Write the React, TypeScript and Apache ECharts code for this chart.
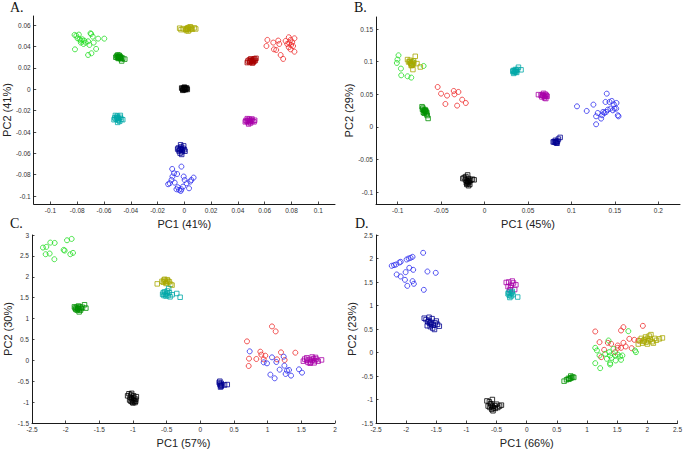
import React, { useEffect, useRef } from "react";
import * as echarts from "echarts";

type P = [number, number][];

// ---------- Panel A ----------
const aGreenCircles: P = [[-0.082,0.0509],[-0.0807,0.0502],[-0.0788,0.0512],[-0.0798,0.0477],[-0.0783,0.0468],[-0.0773,0.0456],[-0.0763,0.0468],[-0.0748,0.0456],[-0.0738,0.0437],[-0.0719,0.0449],[-0.0701,0.0524],[-0.0696,0.0518],[-0.0677,0.0437],[-0.0684,0.0493],[-0.0644,0.0474],[-0.0598,0.0474],[-0.0817,0.0374],[-0.0719,0.0321],[-0.0694,0.0337],[-0.0659,0.0378],[-0.0753,0.0424],[-0.0709,0.0415],[-0.0773,0.0437]];
const aDarkGreenSquares: P = [[-0.0495,0.0305],[-0.0488,0.0298],[-0.0478,0.0302],[-0.05,0.0295],[-0.0482,0.031],[-0.047,0.0296],[-0.0492,0.0288],[-0.0505,0.0312],[-0.0475,0.0285],[-0.046,0.029],[-0.0445,0.0282],[-0.0512,0.03],[-0.0487,0.0318],[-0.0468,0.0265],[-0.0497,0.0322],[-0.0483,0.0292],[-0.049,0.0302]];
const aOliveSquares: P = [[0.002,0.0565],[0.003,0.057],[0.001,0.056],[0.004,0.0558],[0.0025,0.0575],[-0.001,0.0568],[0.005,0.0572],[0.006,0.0562],[-0.0025,0.0558],[0.0015,0.055],[0.0035,0.058],[0.0075,0.0575],[0.0085,0.0565],[-0.0035,0.0572],[0.0028,0.0545],[0.0045,0.0585],[0.002,0.0562]];
const aBlackSquares: P = [[0,0.0006],[0.0005,0.0002],[-0.0006,0.001],[0.001,0.0008],[-0.001,0],[0.0003,0.0015],[-0.0003,-0.0005],[0.0015,0.0004],[-0.0015,0.0006],[0.0008,-0.0003],[-0.002,0.0012],[0.0018,0.0012],[0,0.002],[0.0022,-0.0002],[-0.0012,-0.001]];
const aDarkRedSquares: P = [[0.05,0.0268],[0.051,0.0272],[0.0492,0.0263],[0.0518,0.028],[0.0505,0.0258],[0.0485,0.0275],[0.0525,0.0285],[0.053,0.027],[0.0475,0.0265],[0.0496,0.0285],[0.0515,0.0255],[0.047,0.025],[0.0535,0.029],[0.0508,0.0245],[0.0488,0.0252],[0.052,0.0262]];
const aRedCircles: P = [[0.062,0.0462],[0.0613,0.0405],[0.0664,0.0437],[0.0701,0.0456],[0.0709,0.0424],[0.0669,0.0374],[0.0686,0.0368],[0.0719,0.0321],[0.0738,0.0284],[0.0756,0.0452],[0.078,0.0487],[0.0793,0.0462],[0.0822,0.0477],[0.0783,0.0431],[0.0798,0.0415],[0.0812,0.0405],[0.078,0.0393],[0.0793,0.0374],[0.0822,0.0352],[0.0768,0.0424],[0.0805,0.044]];
const aCyanSquares: P = [[-0.0496,-0.0268],[-0.0505,-0.026],[-0.0488,-0.0275],[-0.051,-0.028],[-0.048,-0.0262],[-0.05,-0.025],[-0.0492,-0.029],[-0.052,-0.0268],[-0.047,-0.028],[-0.0515,-0.0245],[-0.0483,-0.03],[-0.046,-0.0285],[-0.0498,-0.031],[-0.0525,-0.0285],[-0.0478,-0.0245],[-0.0502,-0.0272]];
const aMagentaSquares: P = [[0.0484,-0.0296],[0.0475,-0.029],[0.0492,-0.0302],[0.0468,-0.03],[0.05,-0.0288],[0.0485,-0.028],[0.0478,-0.0312],[0.051,-0.0298],[0.046,-0.0292],[0.052,-0.0305],[0.0495,-0.0315],[0.0455,-0.0305],[0.047,-0.0275],[0.0505,-0.0278],[0.048,-0.0325],[0.0525,-0.029]];
const aDarkBlueSquares: P = [[-0.0022,-0.0562],[-0.003,-0.0555],[-0.0015,-0.057],[-0.0035,-0.0568],[-0.001,-0.0552],[-0.0025,-0.054],[-0.004,-0.0578],[-0.0018,-0.0585],[0,-0.0565],[-0.0045,-0.055],[-0.0005,-0.053],[-0.0032,-0.0598],[0.0005,-0.058],[-0.005,-0.056],[-0.002,-0.061],[-0.0028,-0.052]];
const aBlueCircles: P = [[-0.0121,-0.0889],[-0.0091,-0.0746],[-0.0077,-0.0786],[-0.0089,-0.0817],[-0.0054,-0.0793],[-0.0022,-0.0724],[-0.0005,-0.0817],[-0.0049,-0.0917],[-0.004,-0.0942],[-0.0059,-0.0936],[-0.0022,-0.0936],[-0.001,-0.0911],[0.0002,-0.0849],[0.0017,-0.088],[0.0035,-0.0927],[0.0044,-0.0864],[0.0052,-0.0849],[0.0069,-0.0827],[-0.0096,-0.0849],[-0.0109,-0.088],[-0.0072,-0.0874],[-0.0027,-0.0952]];

// ---------- Panel B ----------
const bGreenCircles: P = [[-0.0991,0.1097],[-0.1003,0.1032],[-0.101,0.098],[-0.0963,0.0894],[-0.096,0.0791],[-0.0887,0.0776],[-0.0844,0.0756],[-0.0702,0.0934],[-0.0829,0.0995],[-0.0856,0.098]];
const bOliveSquares: P = [[-0.0798,0.1082],[-0.0887,0.1032],[-0.0856,0.1021],[-0.0818,0.101],[-0.0778,0.097],[-0.074,0.0918],[-0.0825,0.0879],[-0.0875,0.0995],[-0.0836,0.0944],[-0.0837,0.0969],[-0.085,0.0975],[-0.0825,0.096],[-0.086,0.1],[-0.0815,0.0985],[-0.0845,0.094],[-0.084,0.0955]];
const bDarkGreenSquares: P = [[-0.069,0.024],[-0.07,0.0255],[-0.068,0.023],[-0.0705,0.0225],[-0.0685,0.0265],[-0.0675,0.0245],[-0.071,0.029],[-0.072,0.031],[-0.0695,0.021],[-0.067,0.02],[-0.066,0.0175],[-0.065,0.013],[-0.0715,0.027],[-0.0688,0.025],[-0.0665,0.022]];
const bRedCircles: P = [[-0.054,0.0612],[-0.0501,0.051],[-0.0432,0.048],[-0.0451,0.0352],[-0.0355,0.0551],[-0.0347,0.05],[-0.0301,0.0536],[-0.0316,0.0327],[-0.0258,0.0418],[-0.0216,0.0367]];
const bBlackSquares: P = [[-0.019,-0.084],[-0.02,-0.083],[-0.018,-0.085],[-0.021,-0.0855],[-0.0175,-0.0825],[-0.0195,-0.0865],[-0.022,-0.081],[-0.016,-0.0815],[-0.0205,-0.088],[-0.0185,-0.079],[-0.0235,-0.0775],[-0.014,-0.08],[-0.012,-0.081],[-0.017,-0.088],[-0.0215,-0.076],[-0.0195,-0.0735],[-0.025,-0.079],[-0.0185,-0.09]];
const bCyanSquares: P = [[0.035,0.085],[0.034,0.086],[0.036,0.0845],[0.0345,0.0835],[0.033,0.0865],[0.0365,0.087],[0.038,0.088],[0.039,0.0915],[0.042,0.0875],[0.0335,0.082],[0.0355,0.088],[0.0325,0.085],[0.037,0.0835]];
const bMagentaSquares: P = [[0.0686,0.0474],[0.0675,0.048],[0.0695,0.0465],[0.0665,0.0495],[0.07,0.05],[0.069,0.0445],[0.071,0.0485],[0.062,0.0495],[0.065,0.0485],[0.072,0.047],[0.068,0.0515],[0.0705,0.0435],[0.066,0.046]];
const bDarkBlueSquares: P = [[0.082,-0.023],[0.083,-0.0225],[0.081,-0.0235],[0.08,-0.0225],[0.084,-0.0215],[0.0825,-0.0245],[0.085,-0.0185],[0.087,-0.016],[0.079,-0.023],[0.0815,-0.0205],[0.0835,-0.025]];
const bBlueCircles: P = [[0.1064,0.0316],[0.1176,0.0245],[0.1253,0.0342],[0.1284,0.0163],[0.1284,0.0041],[0.1303,0.0214],[0.1342,0.0128],[0.1353,0.0179],[0.138,0.0214],[0.1407,0.051],[0.1392,0.0383],[0.1399,0.023],[0.1438,0.0383],[0.1449,0.0281],[0.1465,0.0398],[0.1476,0.0255],[0.1488,0.0347],[0.1496,0.0281],[0.1515,0.0281],[0.1519,0.0367],[0.1534,0.0179],[0.1542,0.0163],[0.1419,0.0265],[0.1365,0.023]];

// ---------- Panel C ----------
const cGreenCircles: P = [[-2.337,2.699],[-2.287,2.715],[-2.228,2.818],[-2.163,2.81],[-2.297,2.54],[-2.238,2.556],[-2.168,2.42],[-2.03,2.643],[-2.015,2.627],[-1.98,2.874],[-1.911,2.906],[-1.931,2.54],[-1.891,2.572]];
const cDarkGreenSquares: P = [[-1.82,1.25],[-1.84,1.27],[-1.8,1.23],[-1.85,1.22],[-1.79,1.28],[-1.83,1.2],[-1.81,1.3],[-1.86,1.25],[-1.77,1.24],[-1.75,1.27],[-1.72,1.33],[-1.7,1.25],[-1.8,1.16],[-1.78,1.2],[-1.87,1.28],[-1.82,1.23]];
const cOliveSquares: P = [[-0.52,1.89],[-0.54,1.92],[-0.5,1.86],[-0.53,1.94],[-0.48,1.9],[-0.46,1.88],[-0.55,1.87],[-0.51,1.84],[-0.44,1.82],[-0.42,1.8],[-0.64,1.83],[-0.49,1.93],[-0.57,1.89]];
const cCyanSquares: P = [[-0.52,1.58],[-0.55,1.62],[-0.5,1.6],[-0.48,1.55],[-0.53,1.64],[-0.56,1.58],[-0.46,1.62],[-0.49,1.66],[-0.51,1.54],[-0.45,1.52],[-0.35,1.6],[-0.3,1.51],[-0.47,1.72],[-0.54,1.55],[-0.42,1.57]];
const cBlackSquares: P = [[-1,-0.95],[-1.02,-0.92],[-0.98,-0.97],[-1.03,-0.98],[-0.99,-0.9],[-0.96,-0.93],[-1.01,-1],[-1.04,-0.88],[-0.97,-1.01],[-1.06,-0.8],[-1.02,-0.79],[-1.08,-0.85],[-0.95,-0.87],[-0.96,-0.98],[-1.05,-0.95],[-1,-1.02],[-0.99,-0.85],[-1.03,-0.83]];
const cDarkBlueSquares: P = [[0.3,-0.6],[0.29,-0.57],[0.31,-0.62],[0.28,-0.53],[0.3,-0.64],[0.32,-0.59],[0.29,-0.5],[0.36,-0.59],[0.4,-0.58],[0.31,-0.55]];
const cRedCircles: P = [[0.693,0.454],[0.723,0.04],[0.718,-0.135],[0.832,0.032],[0.891,0.207],[0.906,0.135],[0.941,0.024],[1.064,0.812],[1.119,0.693],[1.139,0.024],[1.198,0.191],[1.252,0.008],[1.411,0.183],[0.965,0.111]];
const cBlueCircles: P = [[0.733,0.215],[0.941,-0.048],[0.99,-0.072],[1.064,0.072],[1.129,-0.04],[1.04,-0.342],[1.104,-0.43],[1.178,-0.223],[1.238,0.088],[1.267,-0.326],[1.287,-0.247],[1.317,-0.231],[1.347,-0.366],[1.465,-0.215],[1.51,-0.295],[1.248,-0.127]];
const cMagentaSquares: P = [[1.66,0],[1.62,0.02],[1.7,-0.01],[1.64,-0.04],[1.68,0.04],[1.58,0],[1.72,0.03],[1.6,-0.05],[1.75,-0.02],[1.55,0.03],[1.66,0.08],[1.63,-0.07],[1.8,0.01],[1.53,-0.02],[1.69,-0.06],[1.71,0.07],[1.58,0.06]];

// ---------- Panel D ----------
const dBlueCircles: P = [[-2.239,1.844],[-2.201,1.858],[-2.168,1.872],[-2.113,1.915],[-2.091,1.929],[-2.157,1.66],[-2.091,1.617],[-2.02,1.546],[-2.009,1.709],[-1.992,1.979],[-1.959,2.0],[-1.926,2.014],[-1.894,2.035],[-1.981,1.418],[-1.948,1.801],[-1.894,1.518],[-1.872,1.461],[-1.883,1.759],[-1.718,2.121],[-1.707,1.333],[-1.647,1.723],[-1.509,1.695]];
const dDarkBlueSquares: P = [[-1.61,0.62],[-1.58,0.6],[-1.64,0.65],[-1.55,0.58],[-1.62,0.68],[-1.67,0.7],[-1.52,0.63],[-1.6,0.55],[-1.56,0.52],[-1.7,0.73],[-1.65,0.57],[-1.48,0.6],[-1.45,0.56],[-1.57,0.72],[-1.53,0.49],[-1.62,0.75],[-1.5,0.67],[-1.59,0.64]];
const dMagentaSquares: P = [[-0.26,1.43],[-0.3,1.5],[-0.34,1.49],[-0.22,1.48],[-0.18,1.44],[-0.27,1.38],[-0.2,1.34],[-0.31,1.4],[-0.24,1.52],[-0.28,1.33]];
const dCyanSquares: P = [[-0.27,1.25],[-0.29,1.22],[-0.25,1.27],[-0.3,1.28],[-0.26,1.2],[-0.23,1.23],[-0.28,1.17],[-0.15,1.18],[-0.31,1.25],[-0.24,1.3]];
const dBlackSquares: P = [[-0.57,-1.15],[-0.59,-1.12],[-0.55,-1.18],[-0.61,-1.17],[-0.53,-1.13],[-0.58,-1.21],[-0.62,-1.05],[-0.66,-1.03],[-0.5,-1.1],[-0.45,-1.14],[-0.42,-1.12],[-0.56,-1.24],[-0.6,-1.09],[-0.52,-1.19],[-0.64,-1.14],[-0.48,-1.17],[-0.57,-1.0]];
const dDarkGreenSquares: P = [[0.72,-0.55],[0.74,-0.54],[0.7,-0.57],[0.76,-0.52],[0.66,-0.58],[0.62,-0.61],[0.78,-0.53],[0.73,-0.5],[0.69,-0.55]];
const dRedCircles: P = [[1.136,0.447],[1.207,0.22],[1.235,-0.099],[1.284,0.057],[1.345,0.206],[1.465,0.007],[1.509,0.149],[1.564,0.468],[1.603,0.539],[1.603,0.206],[1.641,0.128],[1.701,0.291],[1.74,0.092],[1.784,0.27],[1.85,0.255],[1.926,0.567],[1.564,0.099],[1.4,0.184],[1.509,0.099]];
const dGreenCircles: P = [[1.136,0.099],[1.164,0.043],[1.207,-0.064],[1.136,-0.227],[1.218,-0.333],[1.356,0.255],[1.367,0.007],[1.383,-0.064],[1.41,-0.113],[1.383,-0.227],[1.383,-0.255],[1.438,0.078],[1.465,-0.064],[1.476,-0.17],[1.509,-0.043],[1.548,-0.085],[1.564,-0.156],[1.685,0.454],[1.795,0.043],[1.811,0.007],[1.586,-0.064],[1.328,-0.135],[1.301,-0.028]];
const dOliveSquares: P = [[2.02,0.25],[1.98,0.22],[2.05,0.28],[1.95,0.27],[2.08,0.23],[2.0,0.3],[1.92,0.2],[2.12,0.3],[2.15,0.26],[1.88,0.25],[1.85,0.18],[2.2,0.29],[2.03,0.35],[1.97,0.33],[2.1,0.2],[2.06,0.38],[1.9,0.3],[2.0,0.18],[1.94,0.24],[2.25,0.31]];

// ---------- Axes ----------
const panelLetters = ["A.", "B.", "C.", "D."];
const xTitles = ["PC1 (41%)", "PC1 (45%)", "PC1 (57%)", "PC1 (66%)"];
const yTitles = ["PC2 (41%)", "PC2 (29%)", "PC2 (30%)", "PC2 (23%)"];
const xRanges: [number, number][] = [[-0.1125, 0.1125], [-0.125, 0.225], [-2.5, 2], [-2.5, 2.5]];
const yRanges: [number, number][] = [[-0.1074, 0.0686], [-0.118, 0.1684], [-1.5, 3], [-1.5, 2.5]];
const xTicks: number[][] = [
  [-0.1, -0.08, -0.06, -0.04, -0.02, 0, 0.02, 0.04, 0.06, 0.08, 0.1],
  [-0.1, -0.05, 0, 0.05, 0.1, 0.15, 0.2],
  [-2.5, -2, -1.5, -1, -0.5, 0, 0.5, 1, 1.5, 2],
  [-2.5, -2, -1.5, -1, -0.5, 0, 0.5, 1, 1.5, 2, 2.5],
];
const yTicks: number[][] = [
  [-0.1, -0.08, -0.06, -0.04, -0.02, 0, 0.02, 0.04, 0.06],
  [-0.1, -0.05, 0, 0.05, 0.1, 0.15],
  [-1.5, -1, -0.5, 0, 0.5, 1, 1.5, 2, 2.5, 3],
  [-1.5, -1, -0.5, 0, 0.5, 1, 1.5, 2, 2.5],
];

// layout (px) and styles
const grids = [
  { left: 32, top: 16, width: 303, height: 188 },
  { left: 376, top: 17, width: 304, height: 187 },
  { left: 32, top: 235, width: 303, height: 188 },
  { left: 376, top: 235, width: 303, height: 188 },
];
const letterPos = [[10, 7.5], [354, 7.5], [10, 223.5], [355, 223.5]];

const C = {
  green: "#22dd22",
  dkgreen: "#009000",
  olive: "#a8a800",
  black: "#000000",
  red: "#ee2a2a",
  dkred: "#a80000",
  cyan: "#00a8a8",
  magenta: "#a800a8",
  dkblue: "#000090",
  blue: "#2a2aee",
};

type Cl = { g: number; d: P; c: string; s: "circle" | "rect" };
const clusters: Cl[] = [
  { g: 0, d: aGreenCircles, c: C.green, s: "circle" },
  { g: 0, d: aRedCircles, c: C.red, s: "circle" },
  { g: 0, d: aBlueCircles, c: C.blue, s: "circle" },
  { g: 0, d: aDarkGreenSquares, c: C.dkgreen, s: "rect" },
  { g: 0, d: aOliveSquares, c: C.olive, s: "rect" },
  { g: 0, d: aBlackSquares, c: C.black, s: "rect" },
  { g: 0, d: aDarkRedSquares, c: C.dkred, s: "rect" },
  { g: 0, d: aCyanSquares, c: C.cyan, s: "rect" },
  { g: 0, d: aMagentaSquares, c: C.magenta, s: "rect" },
  { g: 0, d: aDarkBlueSquares, c: C.dkblue, s: "rect" },

  { g: 1, d: bGreenCircles, c: C.green, s: "circle" },
  { g: 1, d: bRedCircles, c: C.red, s: "circle" },
  { g: 1, d: bBlueCircles, c: C.blue, s: "circle" },
  { g: 1, d: bOliveSquares, c: C.olive, s: "rect" },
  { g: 1, d: bDarkGreenSquares, c: C.dkgreen, s: "rect" },
  { g: 1, d: bBlackSquares, c: C.black, s: "rect" },
  { g: 1, d: bCyanSquares, c: C.cyan, s: "rect" },
  { g: 1, d: bMagentaSquares, c: C.magenta, s: "rect" },
  { g: 1, d: bDarkBlueSquares, c: C.dkblue, s: "rect" },

  { g: 2, d: cGreenCircles, c: C.green, s: "circle" },
  { g: 2, d: cRedCircles, c: C.red, s: "circle" },
  { g: 2, d: cBlueCircles, c: C.blue, s: "circle" },
  { g: 2, d: cDarkGreenSquares, c: C.dkgreen, s: "rect" },
  { g: 2, d: cOliveSquares, c: C.olive, s: "rect" },
  { g: 2, d: cCyanSquares, c: C.cyan, s: "rect" },
  { g: 2, d: cBlackSquares, c: C.black, s: "rect" },
  { g: 2, d: cDarkBlueSquares, c: C.dkblue, s: "rect" },
  { g: 2, d: cMagentaSquares, c: C.magenta, s: "rect" },

  { g: 3, d: dBlueCircles, c: C.blue, s: "circle" },
  { g: 3, d: dRedCircles, c: C.red, s: "circle" },
  { g: 3, d: dGreenCircles, c: C.green, s: "circle" },
  { g: 3, d: dDarkBlueSquares, c: C.dkblue, s: "rect" },
  { g: 3, d: dMagentaSquares, c: C.magenta, s: "rect" },
  { g: 3, d: dCyanSquares, c: C.cyan, s: "rect" },
  { g: 3, d: dBlackSquares, c: C.black, s: "rect" },
  { g: 3, d: dDarkGreenSquares, c: C.dkgreen, s: "rect" },
  { g: 3, d: dOliveSquares, c: C.olive, s: "rect" },
];

const SANS = "'Liberation Sans', Arial, sans-serif";
const SERIF = "'Liberation Serif', 'Times New Roman', serif";

export default function App() {
  const ref = useRef<HTMLDivElement>(null);
  useEffect(() => {
    if (!ref.current) return;
    const chart = echarts.init(ref.current, undefined, { renderer: "svg" });
    const fmt = (v: number) => String(v);
    const axisCommon = (ticks: number[]) => ({
      type: "value" as const,
      axisLine: { show: true, onZero: false, lineStyle: { color: "#1a1a1a", width: 1 } },
      axisTick: { show: true, inside: true, length: 2.5, customValues: ticks, lineStyle: { color: "#1a1a1a", width: 0.8 } },
      axisLabel: { show: true, customValues: ticks, formatter: fmt, fontSize: 6.5, color: "#333", fontFamily: SANS, margin: 3 },
      splitLine: { show: false },
      nameLocation: "middle" as const,
      nameTextStyle: { fontSize: 11, color: "#222", fontFamily: SANS },
    });
    const option: any = {
      animation: false,
      backgroundColor: "#ffffff",
      grid: grids.map((g) => ({ ...g, containLabel: false })),
      xAxis: grids.map((_, i) => ({
        ...axisCommon(xTicks[i]),
        gridIndex: i,
        min: xRanges[i][0],
        max: xRanges[i][1],
        name: xTitles[i],
        nameGap: 14,
      })),
      yAxis: grids.map((_, i) => ({
        ...axisCommon(yTicks[i]),
        gridIndex: i,
        min: yRanges[i][0],
        max: yRanges[i][1],
        name: yTitles[i],
        nameGap: 19,
      })),
      graphic: panelLetters.map((t, i) => ({
        type: "text",
        x: letterPos[i][0],
        y: letterPos[i][1],
        style: { text: t, font: `14px ${SERIF}`, fill: "#111", verticalAlign: "middle", align: "left" },
      })),
      series: clusters.map((cl) => ({
        type: "scatter",
        xAxisIndex: cl.g,
        yAxisIndex: cl.g,
        data: cl.d,
        symbol: cl.s,
        symbolSize: cl.s === "circle" ? 5 : 4.5,
        itemStyle: { color: "rgba(0,0,0,0)", borderColor: cl.c, borderWidth: 0.8, opacity: 1 },
        emphasis: { disabled: true },
        silent: true,
      })),
    };
    chart.setOption(option);
    return () => chart.dispose();
  }, []);
  return (
    <div
      ref={ref}
      style={{ position: "absolute", left: 0, top: 0, width: 685, height: 449, background: "#fff" }}
    />
  );
}
